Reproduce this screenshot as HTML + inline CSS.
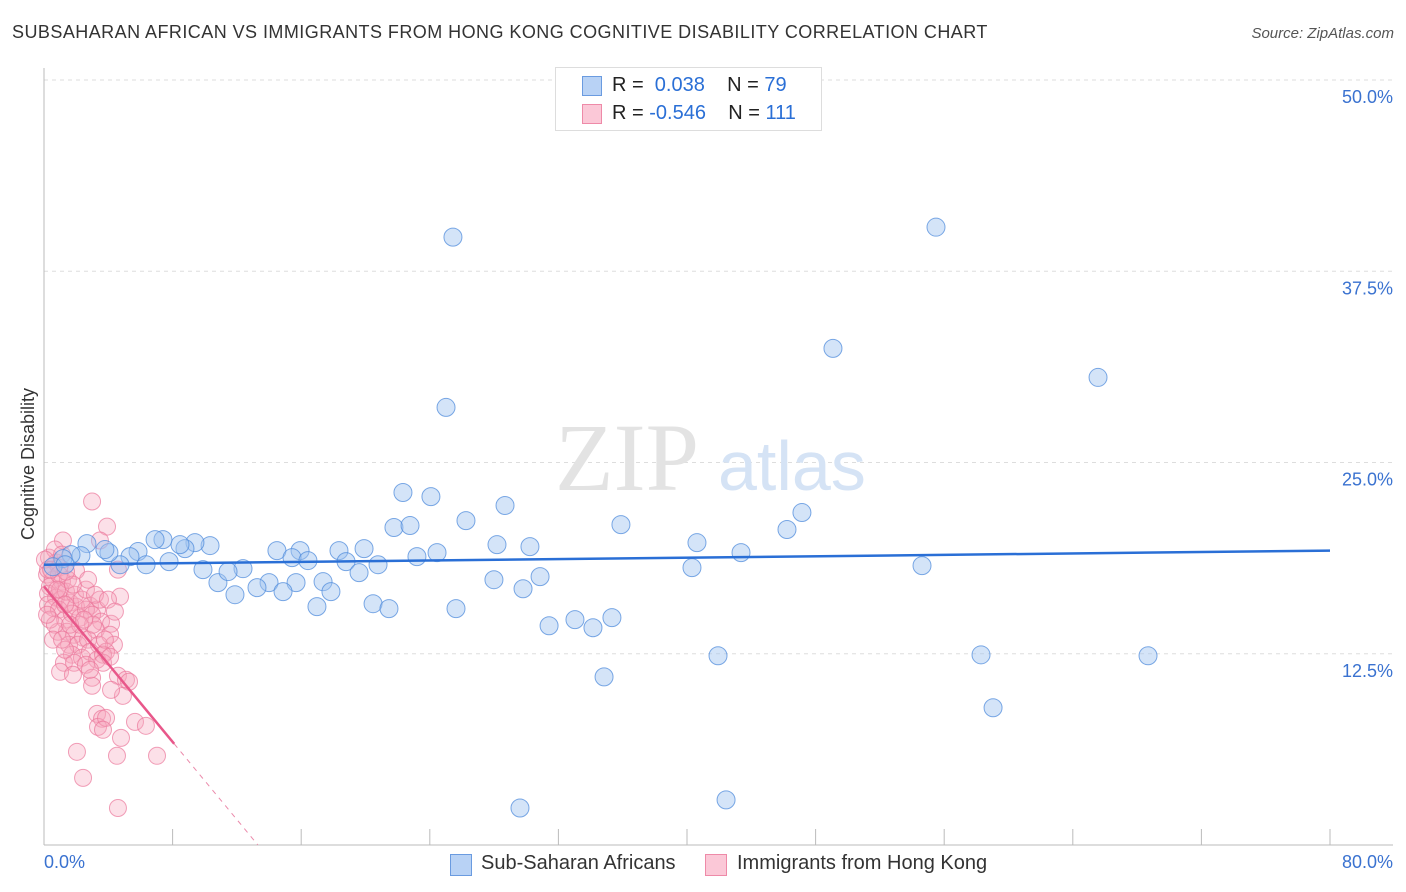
<!DOCTYPE html>
<html><head><meta charset="utf-8"><style>
body{margin:0;background:#fff;font-family:"Liberation Sans",sans-serif;}
#wrap{position:relative;width:1406px;height:892px;overflow:hidden;}
.t{position:absolute;white-space:nowrap;}
</style></head><body>
<div id="wrap">
<div class="t" style="left:12px;top:22px;font-size:18px;letter-spacing:0.45px;color:#333;">SUBSAHARAN AFRICAN VS IMMIGRANTS FROM HONG KONG COGNITIVE DISABILITY CORRELATION CHART</div>
<div class="t" style="right:12px;top:25px;font-size:15px;color:#555;font-style:italic;">Source: ZipAtlas.com</div>
<svg id="svg" width="1406" height="892" style="position:absolute;left:0;top:0"></svg>
</div>
<script>
const yTicks=[12.5,25,37.5,50];
const yTickLabels=["12.5%","25.0%","37.5%","50.0%"];
const xTicks=[0,8,16,24,32,40,48,56,64,72,80];
const blueX=[25.44,55.49,49.08,65.57,25.01,22.33,24.07,28.68,26.25,35.89,47.15,46.22,21.77,22.77,40.62,43.36,28.18,30.23,24.45,23.2,19.91,18.35,15.93,14.49,15.43,16.42,18.79,20.78,19.6,17.36,17.85,15.68,14.0,13.25,14.87,11.88,10.82,12.38,11.45,9.89,10.33,9.39,8.77,8.46,7.4,6.91,5.85,6.35,7.78,5.35,4.73,4.04,3.79,2.67,2.3,1.68,1.18,0.56,27.99,30.86,29.8,40.31,54.62,16.98,20.47,21.46,25.63,31.42,33.03,34.15,35.33,41.93,58.29,68.68,34.84,59.04,29.61,42.43,1.31];
const blueY=[39.73,40.38,32.46,30.56,28.6,23.04,22.77,22.19,21.2,20.94,21.73,20.62,20.75,20.88,19.76,19.11,19.63,19.5,19.11,18.85,19.37,19.24,19.24,19.24,18.78,18.59,18.52,18.32,17.8,17.21,16.56,17.15,17.15,16.82,16.56,16.36,17.15,18.06,17.87,18.0,19.57,19.76,19.37,19.63,19.96,19.96,19.18,18.32,18.52,18.85,18.32,19.11,19.31,19.7,18.91,18.98,18.72,18.19,17.34,17.54,16.75,18.13,18.26,15.58,15.77,15.45,15.45,14.33,14.73,14.2,14.86,12.37,12.43,12.37,10.99,8.97,2.42,2.95,18.32];
const pinkX=[2.99,3.92,1.18,3.48,0.31,0.75,0.93,1.99,0.19,0.56,1.12,0.37,0.25,0.75,1.06,1.62,0.25,0.56,0.93,1.99,2.86,3.3,4.6,4.73,1.31,1.74,2.24,2.61,2.99,3.55,4.17,0.87,1.43,1.87,2.43,3.23,4.11,4.35,1.56,2.12,2.74,3.42,3.86,1.74,2.36,2.86,3.3,3.67,1.24,1.87,2.61,1.0,1.8,2.99,3.67,4.11,4.6,5.1,2.99,5.29,4.91,3.3,3.61,3.36,3.86,5.66,6.34,3.67,4.79,2.05,4.54,7.03,2.43,4.6,0.37,0.68,0.19,0.56,1.31,0.25,1.0,1.37,1.93,2.36,1.49,0.68,1.12,0.06,2.61,3.05,3.48,3.79,2.24,1.62,1.12,2.86,4.17,0.93,0.44,0.81,1.31,1.8,2.74,3.17,3.98,4.41,1.37,2.49];
const pinkY=[22.45,20.81,19.9,19.9,18.78,18.46,18.13,17.93,17.67,17.34,17.21,16.89,16.43,16.17,16.04,15.84,15.71,15.51,15.38,15.58,15.64,15.38,18.0,16.23,14.73,15.12,14.86,15.38,15.05,14.6,14.46,13.94,13.94,13.74,13.55,14.07,13.74,13.09,13.09,13.09,13.42,13.09,12.63,12.44,12.24,12.63,12.11,12.44,11.91,11.91,11.78,11.32,11.13,10.93,11.91,12.3,11.06,10.8,10.41,10.67,9.75,8.57,8.25,7.72,8.31,8.05,7.79,7.53,7.0,6.09,5.83,5.83,4.39,2.42,14.73,14.4,15.05,13.42,12.76,18.0,16.69,16.56,16.36,16.04,17.34,19.31,18.98,18.65,16.69,14.4,16.04,13.42,14.4,14.4,13.42,11.45,10.14,17.67,18.0,16.69,15.71,17.02,17.34,16.36,16.04,15.25,17.87,14.73];
const blueTrend=[18.32,19.24];
const pinkTrend=[16.9,-1.27];
const pinkSolidEnd=8.1, pinkDashEnd=13.3;

const X0=44,X1=1330,Y0=845,Y50=80;
const sx=v=>X0+(X1-X0)*v/80;
const sy=v=>Y0-(Y0-Y50)*v/50;
const svg=document.getElementById('svg');
const NS='http://www.w3.org/2000/svg';
function mk(tag,attrs){const e=document.createElementNS(NS,tag);for(const k in attrs)e.setAttribute(k,attrs[k]);svg.appendChild(e);return e;}

yTicks.forEach((v,i)=>{
 const g=mk('line',{x1:X0,x2:1393,y1:sy(v),y2:sy(v),stroke:'#ddd','stroke-dasharray':'4,4'});
 
 
 const t=mk('text',{x:1393,y:sy(v)+23,'text-anchor':'end','font-size':18,fill:'#3a72d0','font-family':'Liberation Sans, sans-serif'});
 t.textContent=yTickLabels[i];
 
 
});
const ax=mk('line',{x1:X0,x2:X0,y1:68,y2:Y0,stroke:'#bbb'});


const bx=mk('line',{x1:X0,x2:1393,y1:Y0,y2:Y0,stroke:'#bbb'});


xTicks.slice(1).forEach(v=>{
 const l=mk('line',{x1:sx(v),x2:sx(v),y1:Y0,y2:Y0-16,stroke:'#bbb'});
 
 
});
const wm=mk('text',{x:555,y:490,'font-size':96,fill:'#e3e3e3','font-family':'Liberation Serif, serif'});wm.textContent='ZIP';


const wm2=mk('text',{x:718,y:490,'font-size':70,fill:'#d5e3f5','font-family':'Liberation Sans, sans-serif'});wm2.textContent='atlas';



pinkX.forEach((x,i)=>{
 const c=mk('circle',{cx:sx(x),cy:sy(pinkY[i]),r:8.5,fill:'rgba(245,165,190,0.35)',stroke:'rgba(235,120,155,0.7)','stroke-width':1});
 
 
});
blueX.forEach((x,i)=>{
 const c=mk('circle',{cx:sx(x),cy:sy(blueY[i]),r:9,fill:'rgba(160,195,240,0.45)',stroke:'rgba(80,140,220,0.75)','stroke-width':1});
 
 
});
const bt=mk('line',{x1:sx(0),x2:sx(80),y1:sy(blueTrend[0]),y2:sy(blueTrend[1]),stroke:'#2a6fd6','stroke-width':2.5});


const pf=x=>pinkTrend[0]+pinkTrend[1]*x;
const pt=mk('line',{x1:sx(0),x2:sx(pinkSolidEnd),y1:sy(pf(0)),y2:sy(pf(pinkSolidEnd)),stroke:'#e8578a','stroke-width':2.5});


const pd=mk('line',{x1:sx(pinkSolidEnd),x2:sx(pinkDashEnd),y1:sy(pf(pinkSolidEnd)),y2:sy(pf(pinkDashEnd)),stroke:'#eb8aab','stroke-width':1,'stroke-dasharray':'5,5'});


</script>
<div class="t" style="left:18px;top:540px;font-size:18px;color:#333;transform:rotate(-90deg);transform-origin:left top;">Cognitive Disability</div>
<div class="t" style="left:44px;top:852px;font-size:18px;color:#3a72d0;">0.0%</div>
<div class="t" style="right:13px;top:852px;font-size:18px;color:#3a72d0;">80.0%</div>
<div style="position:absolute;left:555px;top:67px;width:265px;height:62px;border:1px solid #ddd;background:#fff;font-size:20px;">
 <div style="position:absolute;left:26px;top:8px;width:18px;height:18px;background:#b8d2f5;border:1px solid #6a9be0;"></div>
 <div class="t" style="left:56px;top:6px;color:#222;">R = &nbsp;<span style="color:#2a6fd6">0.038</span>&nbsp;&nbsp;&nbsp; N = <span style="color:#2a6fd6">79</span></div>
 <div style="position:absolute;left:26px;top:36px;width:18px;height:18px;background:#fbc8d7;border:1px solid #ee8aa8;"></div>
 <div class="t" style="left:56px;top:34px;color:#222;">R = <span style="color:#2a6fd6">-0.546</span>&nbsp;&nbsp;&nbsp; N = <span style="color:#2a6fd6">111</span></div>
</div>
<div style="position:absolute;left:450px;top:854px;width:20px;height:20px;background:#b8d2f5;border:1px solid #6a9be0;"></div>
<div class="t" style="left:481px;top:852px;font-size:20px;color:#333;">Sub-Saharan Africans</div>
<div style="position:absolute;left:705px;top:854px;width:20px;height:20px;background:#fbc8d7;border:1px solid #ee8aa8;"></div>
<div class="t" style="left:737px;top:852px;font-size:20px;color:#333;">Immigrants from Hong Kong</div>
</body></html>
